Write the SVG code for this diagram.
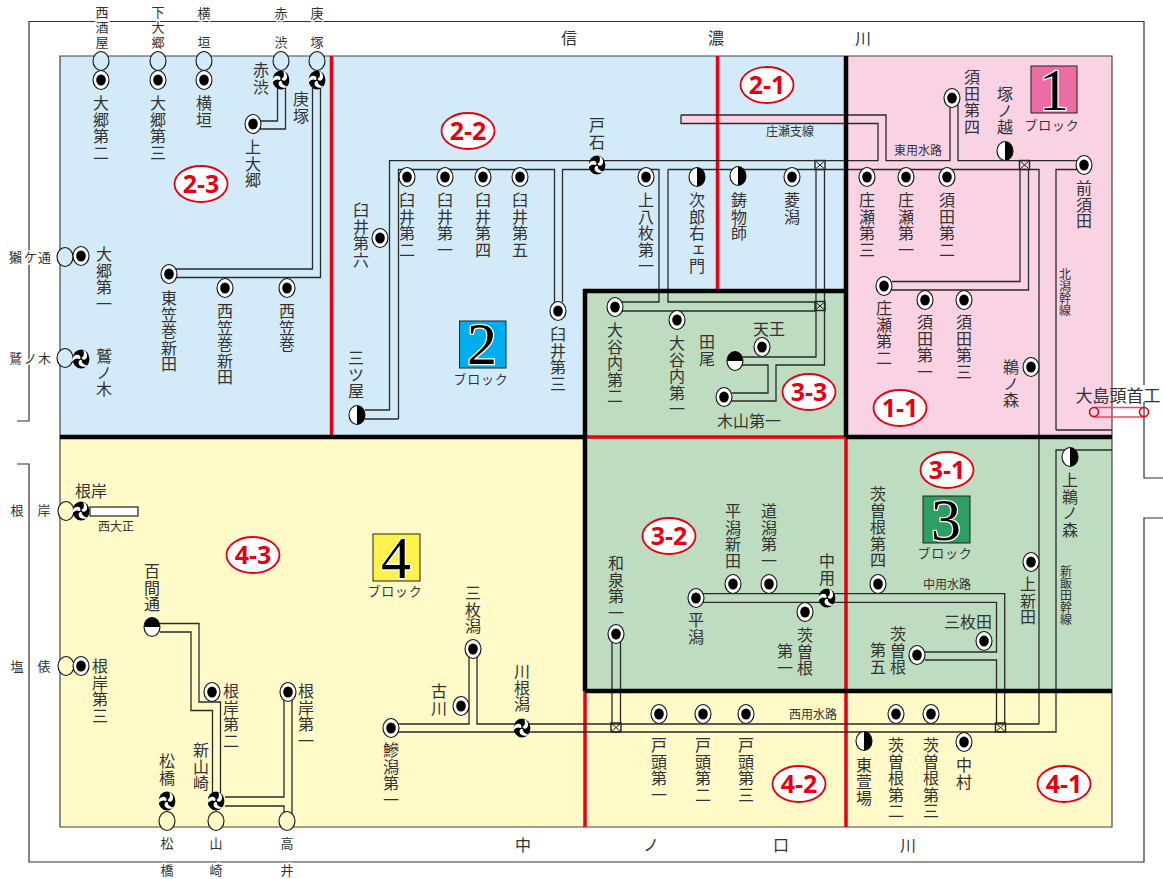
<svg xmlns="http://www.w3.org/2000/svg" width="1163" height="879" viewBox="0 0 1163 879">
<style>
text{font-family:"Noto Sans CJK JP","Noto Sans",sans-serif;fill:#333}
.v{writing-mode:vertical-rl;font-size:16px;letter-spacing:.6px}
.h{font-size:16px;text-anchor:middle}
.s{font-size:13px;text-anchor:middle}
.w{stroke:#fff;stroke-width:3px;paint-order:stroke}
.t{font-size:12px;text-anchor:middle}
.tv{writing-mode:vertical-rl;font-size:12px;letter-spacing:0}
.r{font-size:16px;text-anchor:middle}
.c{fill:none;stroke:#2a2a2a;stroke-width:1.3}
.bk{fill:none;stroke:#000;stroke-width:4.5}
.rd{fill:none;stroke:#e60012;stroke-width:3.5}
.lb ellipse{fill:#fff;stroke:#e60012;stroke-width:1.8}
.lb text{font-family:"Open Sans",sans-serif;font-weight:700;font-size:25px;fill:#e60012;text-anchor:middle}
.num{font-family:"Liberation Serif",serif;font-size:60px;fill:#000;stroke:#fff;stroke-width:2.500px;paint-order:stroke;text-anchor:middle}
.bl{font-size:13px;text-anchor:middle;letter-spacing:.8px}
.x{fill:none;stroke:#333;stroke-width:1.2}
.g{stroke:#111;stroke-width:1.1}
.gb{fill:#d3ebf9}
.gy{fill:#fffac7}
</style>
<defs>
<g id="o"><ellipse rx="8" ry="9.5" fill="#fff" stroke="#111" stroke-width="1.1"/><ellipse rx="4.8" ry="5.5" fill="#000"/></g>
<g id="hl"><ellipse rx="8" ry="9.5" fill="#fff" stroke="#111" stroke-width="1.1"/><path d="M0-9.5A8 9.5 0 0 1 0 9.5Z" fill="#000"/></g>
<g id="ht"><ellipse rx="8" ry="9.5" fill="#fff" stroke="#111" stroke-width="1.1"/><path d="M-8 0A8 9.5 0 0 1 8 0Z" fill="#000"/></g>
<g id="sw"><ellipse rx="8.4" ry="9.6" fill="#000"/>
<path id="cm" d="M.8-1.4C2.8-2.4 3.6-4.8 2.2-9C6-7.4 7.6-2.4 4.6.2C2.8 1.4 0 .2.8-1.4Z" fill="#fff"/>
<use href="#cm" transform="rotate(120)"/><use href="#cm" transform="rotate(240)"/></g>
<g id="jx"><rect x="-5" y="-4.500" width="10" height="9" fill="none" stroke="#222" stroke-width="1.4"/><path d="M-4-3.500L4 3.500M4-3.500L-4 3.500" stroke="#222" stroke-width="1"/></g>
</defs>
<rect width="1163" height="879" fill="#fff"/>
<g id="frame"><path class="x" d="M17 421H29V21.500H1144V478H1163M1163 518H1144V862H29V464H17"/><rect x="1141" y="385" width="6" height="17" fill="#fff"/></g>
<g id="regions">
<path d="M60 56H846V291H585V437H60Z" fill="#d3ebf9"/>
<path d="M846 56H1112V437H846Z" fill="#f9d2e4"/>
<path d="M60 437H585V691H1112V827H60Z" fill="#fffac7"/>
<path d="M585 291H846V437H1112V691H585Z" fill="#bedcbf"/>
<rect x="681" y="115" width="205" height="8.500" fill="#f9d2e4"/>
<path d="M60 827V56H1112V827Z" fill="none" stroke="#444" stroke-width="1.2"/>
<path class="rd" d="M331.500 56V437M717.500 56V291M585 437H846M846 437V827M585 691V827"/>
</g>
<g id="connectors">
<path class="c" d="M277.500 88V121H260M285.500 88V129H260"/>
<path class="c" d="M312.500 88V269H176M320.500 88V277.500H176"/>
<path class="c" d="M681 115H886V160.700H950V105M681 115V123.500H878V160.700H604"/>
<path class="c" d="M958 105V160.700H1077M1056 430V169.500H1077M1056 430H1112"/>
<path class="c" d="M590 160.700H389.500V410H365M398.500 419H365M398.500 419V169.500H554.500V302M562.500 302V169.500H590"/>
<path class="c" d="M604 169.500H659V302H622M668 169.500V302H815.500M668 169.500H1039V724M622 311H815.500"/>
<path class="c" d="M816 170V357H743M824.500 170V365H776V401H732M742 365H768V393H732M816 311V301M824.500 311V301"/>
<path class="c" d="M1020 170V281.500H892M1028.500 170V290H892"/>
<path class="c" d="M703 593.700H820M703 602.300H820M834 593.700H1004.700V723M834 602.300H996.500V652H925M925 660H996.500V723"/>
<path class="c" d="M612 642V723M620.500 642V723"/>
<path class="c" d="M398 724H469V657M477 657V724H1039M398 732H1056V450H1112"/>
<path class="c" d="M160 623.500H199V702H220.500V793M160 632H191V710.500H212.500V793"/>
<path class="c" d="M284 700V797H225M225 806H284V815M292 700V815"/>
<rect x="90" y="507" width="48" height="9" fill="#fff" stroke="#222" stroke-width="1.2"/>
<use href="#jx" x="820" y="165"/><use href="#jx" x="820" y="306"/><use href="#jx" x="1024.500" y="165"/><use href="#jx" x="616" y="727.500"/><use href="#jx" x="1000.500" y="727.500"/>
<g fill="none" stroke="#ef4560" stroke-width="1.6"><path d="M1094 407.500H1144M1094 417H1144"/><circle cx="1094" cy="412" r="4.500" stroke="#e60012"/><circle cx="1144" cy="412" r="4.500" stroke="#e60012"/></g>
<path class="bk" d="M846 56V437M60 437H585M846 437H1112M585 289V691M583 291H848M585 691H1112"/>
</g>
<g id="labels">
<g class="lb" id="l23"><ellipse cx="201" cy="184" rx="26.500" ry="18"/><text x="201" y="193">2-3</text></g>
<g class="lb" id="l22"><ellipse cx="468" cy="131" rx="26.500" ry="18"/><text x="468" y="140">2-2</text></g>
<g class="lb" id="l21"><ellipse cx="767" cy="85" rx="26.500" ry="18"/><text x="767" y="94">2-1</text></g>
<g class="lb" id="l11"><ellipse cx="900" cy="408" rx="26.500" ry="18"/><text x="900" y="417">1-1</text></g>
<g class="lb" id="l31"><ellipse cx="947" cy="470" rx="26.500" ry="18"/><text x="947" y="479">3-1</text></g>
<g class="lb" id="l32"><ellipse cx="669" cy="536" rx="26.500" ry="18"/><text x="669" y="545">3-2</text></g>
<g class="lb" id="l33"><ellipse cx="809" cy="392" rx="26.500" ry="18"/><text x="809" y="401">3-3</text></g>
<g class="lb" id="l43"><ellipse cx="253" cy="555" rx="26.500" ry="18"/><text x="253" y="564">4-3</text></g>
<g class="lb" id="l42"><ellipse cx="799" cy="784" rx="26.500" ry="18"/><text x="799" y="793">4-2</text></g>
<g class="lb" id="l41"><ellipse cx="1064" cy="784" rx="26.500" ry="18"/><text x="1064" y="793">4-1</text></g>
</g>
<g id="legend">
<g id="b1"><rect x="1031" y="66" width="46" height="47" fill="#ec6ca4" stroke="#222"/><text class="num" x="1054" y="110">1</text><text class="bl" x="1052" y="130">ブロック</text></g>
<g id="b2"><rect x="459.500" y="321" width="46.500" height="47" fill="#00aeef" stroke="#222"/><text class="num" x="482" y="364">2</text><text class="bl" x="481" y="384">ブロック</text></g>
<g id="b3"><rect x="923" y="496" width="47" height="47" fill="#2e9e62" stroke="#222"/><text class="num" x="946" y="540">3</text><text class="bl" x="945" y="558">ブロック</text></g>
<g id="b4"><rect x="373" y="534" width="47" height="47" fill="#fff24a" stroke="#222"/><text class="num" x="396" y="578">4</text><text class="bl" x="395" y="596">ブロック</text></g>
</g>
<g id="rivers"><text class="r" x="569 716 863" y="44">信濃川</text><text class="r" x="523 651 781 908" y="851">中ノ口川</text></g>
<g id="gates">
<ellipse class="g gb" cx="101" cy="61" rx="8" ry="9.500"/><ellipse class="g gb" cx="158" cy="61" rx="8" ry="9.500"/><ellipse class="g gb" cx="204" cy="61" rx="8" ry="9.500"/><ellipse class="g gb" cx="281" cy="61" rx="8" ry="9.500"/><ellipse class="g gb" cx="317" cy="61" rx="8" ry="9.500"/>
<ellipse class="g gb" cx="65" cy="257" rx="8" ry="9.500"/><ellipse class="g gb" cx="65" cy="358" rx="8" ry="9.500"/>
<ellipse class="g gy" cx="66" cy="511" rx="8" ry="9.500"/><ellipse class="g gy" cx="66" cy="666" rx="8" ry="9.500"/>
<ellipse class="g gy" cx="167" cy="821" rx="8" ry="9.500"/><ellipse class="g gy" cx="216" cy="821" rx="8" ry="9.500"/><ellipse class="g gy" cx="287" cy="821" rx="8" ry="9.500"/>
</g>
<g id="frame-labels">
<text class="s w" x="102 102 102" y="17 32 47">西酒屋</text><text class="s w" x="158 158 158" y="17 32 47">下大郷</text><text class="s w" x="204 204" y="18 47">横垣</text><text class="s w" x="281 281" y="18 47">赤渋</text><text class="s w" x="317 317" y="18 47">庚塚</text>
<text class="s w" x="9 24 38" y="262" style="text-anchor:start">獺ケ通</text><text class="s w" x="9 24 38" y="363" style="text-anchor:start">鷲ノ木</text>
<text class="s w" x="17 44" y="515">根岸</text><text class="s w" x="17 44" y="671">塩俵</text>
<text class="s w" x="167 167" y="848 875">松橋</text><text class="s w" x="216 216" y="848 875">山崎</text><text class="s w" x="287 287" y="848 875">高井</text>
</g>
<g id="nodes">
<g id="n01"><use href="#o" x="101" y="80"/><text class="v" x="101" y="95">大郷第二</text></g>
<g id="n02"><use href="#o" x="158" y="80"/><text class="v" x="158" y="95">大郷第三</text></g>
<g id="n03"><use href="#o" x="204" y="80"/><text class="v" x="204" y="95">横垣</text></g>
<g id="n04"><use href="#sw" x="281" y="80"/><text class="v" x="261" y="62">赤渋</text></g>
<g id="n05"><use href="#sw" x="317" y="80"/><text class="v" x="301" y="91">庚塚</text></g>
<g id="n06"><use href="#o" x="253" y="124"/><text class="v" x="253" y="139">上大郷</text></g>
<g id="n07"><use href="#o" x="169" y="274"/><text class="v" x="169" y="290">東笠巻新田</text></g>
<g id="n08"><use href="#o" x="225" y="288"/><text class="v" x="225" y="303">西笠巻新田</text></g>
<g id="n09"><use href="#o" x="287" y="288"/><text class="v" x="287" y="303">西笠巻</text></g>
<g id="n10"><use href="#o" x="81" y="256"/><text class="v" x="104" y="246">大郷第一</text></g>
<g id="n11"><use href="#sw" x="81" y="359"/><text class="v" x="104" y="348">鷲ノ木</text></g>
<g id="n12"><use href="#sw" x="81" y="511"/><text class="h" x="91" y="497">根岸</text><text class="t" x="116" y="531">西大正</text></g>
<g id="n13"><use href="#o" x="81" y="666"/><text class="v" x="100" y="658">根岸第三</text></g>
<g id="n14"><use href="#ht" x="152" y="627"/><text class="v" x="152" y="563">百間通</text></g>
<g id="n15"><use href="#o" x="212" y="692"/><text class="v" x="231" y="683">根岸第二</text></g>
<g id="n16"><use href="#o" x="288" y="692"/><text class="v" x="306" y="683">根岸第一</text></g>
<g id="n17"><use href="#sw" x="216" y="801"/><text class="v" x="201" y="742">新山崎</text></g>
<g id="n18"><use href="#sw" x="167" y="801"/><text class="v" x="167" y="753">松橋</text></g>
<g id="n19"><use href="#sw" x="597" y="165"/><text class="v" x="597" y="117">戸石</text></g>
<g id="n20"><use href="#o" x="407" y="177"/><text class="v" x="407" y="192">臼井第二</text></g>
<g id="n21"><use href="#o" x="445" y="177"/><text class="v" x="445" y="192">臼井第一</text></g>
<g id="n22"><use href="#o" x="483" y="177"/><text class="v" x="483" y="192">臼井第四</text></g>
<g id="n23"><use href="#o" x="520" y="177"/><text class="v" x="520" y="192">臼井第五</text></g>
<g id="n24"><use href="#o" x="380" y="238"/><text class="v" x="361" y="202">臼井第六</text></g>
<g id="n25"><use href="#o" x="558" y="311"/><text class="v" x="558" y="326">臼井第三</text></g>
<g id="n26"><use href="#hl" x="357" y="415"/><text class="v" x="356" y="350">三ツ屋</text></g>
<g id="n27"><use href="#o" x="646" y="177"/><text class="v" x="646" y="192">上八枚第一</text></g>
<g id="n28"><use href="#hl" x="697" y="177"/><text class="v" x="697" y="192">次郎右ェ門</text></g>
<g id="n29"><use href="#hl" x="738" y="176"/><text class="v" x="739" y="192">鋳物師</text></g>
<g id="n30"><use href="#o" x="792" y="177"/><text class="v" x="792" y="192">菱潟</text></g>
<g id="n31"><use href="#o" x="867" y="177"/><text class="v" x="867" y="192">庄瀬第三</text></g>
<g id="n32"><use href="#o" x="906" y="177"/><text class="v" x="906" y="192">庄瀬第一</text></g>
<g id="n33"><use href="#o" x="947" y="177"/><text class="v" x="947" y="192">須田第二</text></g>
<g id="n34"><use href="#o" x="952" y="98"/><text class="v" x="972" y="69">須田第四</text></g>
<g id="n35"><use href="#hl" x="1005" y="151"/><text class="v" x="1005" y="86">塚ノ越</text></g>
<g id="n36"><use href="#o" x="1084" y="165"/><text class="v" x="1084" y="180">前須田</text></g>
<g id="n37"><use href="#o" x="884" y="286"/><text class="v" x="884" y="300">庄瀬第二</text></g>
<g id="n38"><use href="#o" x="925" y="300"/><text class="v" x="925" y="314">須田第一</text></g>
<g id="n39"><use href="#o" x="964" y="300"/><text class="v" x="964" y="314">須田第三</text></g>
<g id="n40"><use href="#o" x="1031" y="367"/><text class="v" x="1011" y="359">鵜ノ森</text></g>
<g id="n41"><use href="#o" x="615" y="307"/><text class="v" x="615" y="322">大谷内第二</text></g>
<g id="n42"><use href="#o" x="677" y="320"/><text class="v" x="677" y="335">大谷内第一</text></g>
<g id="n43"><use href="#ht" x="735" y="361"/><text class="v" x="707" y="334">田尾</text></g>
<g id="n44"><use href="#o" x="762" y="347"/><text class="h" x="769" y="335">天王</text></g>
<g id="n45"><use href="#o" x="724" y="397"/><text class="h" x="749" y="427">木山第一</text></g>
<g id="n46"><use href="#hl" x="1070" y="457"/><text class="v" x="1070" y="472">上鵜ノ森</text></g>
<g id="n47"><use href="#o" x="1031" y="562"/><text class="v" x="1028" y="576">上新田</text></g>
<g id="n48"><use href="#o" x="878" y="584"/><text class="v" x="878" y="486">茨曽根第四</text></g>
<g id="n49"><use href="#o" x="984" y="641"/><text class="h" x="968" y="628">三枚田</text></g>
<g id="n50"><use href="#o" x="917" y="655"/><text class="v" x="898" y="626">茨曽根</text><text class="v" x="878" y="642">第五</text></g>
<g id="n51"><use href="#sw" x="827" y="598"/><text class="v" x="827" y="553">中用</text></g>
<g id="n52"><use href="#o" x="696" y="598"/><text class="v" x="696" y="612">平潟</text></g>
<g id="n53"><use href="#o" x="733" y="584"/><text class="v" x="733" y="503">平潟新田</text></g>
<g id="n54"><use href="#o" x="769" y="584"/><text class="v" x="769" y="503">道潟第一</text></g>
<g id="n55"><use href="#o" x="805" y="612"/><text class="v" x="805" y="627">茨曽根</text><text class="v" x="785" y="643">第一</text></g>
<g id="n56"><use href="#o" x="616" y="634"/><text class="v" x="616" y="555">和泉第一</text></g>
<g id="n57"><use href="#o" x="473" y="649"/><text class="v" x="473" y="585">三枚潟</text></g>
<g id="n58"><use href="#o" x="461" y="706"/><text class="v" x="439" y="683">古川</text></g>
<g id="n59"><use href="#sw" x="522" y="728"/><text class="v" x="522" y="663">川根潟</text></g>
<g id="n60"><use href="#o" x="391" y="728"/><text class="v" x="391" y="742">鰺潟第一</text></g>
<g id="n61"><use href="#o" x="659" y="714"/><text class="v" x="659" y="737">戸頭第一</text></g>
<g id="n62"><use href="#o" x="703" y="714"/><text class="v" x="703" y="737">戸頭第二</text></g>
<g id="n63"><use href="#o" x="746" y="714"/><text class="v" x="746" y="737">戸頭第三</text></g>
<g id="n64"><use href="#hl" x="864" y="741"/><text class="v" x="864" y="757">東萱場</text></g>
<g id="n65"><use href="#o" x="896" y="714"/><text class="v" x="896" y="737">茨曽根第二</text></g>
<g id="n66"><use href="#o" x="931" y="714"/><text class="v" x="931" y="737">茨曽根第三</text></g>
<g id="n67"><use href="#o" x="964" y="742"/><text class="v" x="964" y="757">中村</text></g>
<g id="n68"><text class="h" style="font-size:17px" x="1118" y="402">大島頭首工</text></g>
</g>
<g id="canal-labels">
<text class="t" x="790" y="136">庄瀬支線</text><text class="t" x="918" y="155">東用水路</text><text class="tv" x="1065" y="268">北潟幹線</text><text class="tv" x="1066" y="565">新飯田幹線</text><text class="t" x="947" y="589">中用水路</text><text class="t" x="813" y="719">西用水路</text>
</g>
</svg>
